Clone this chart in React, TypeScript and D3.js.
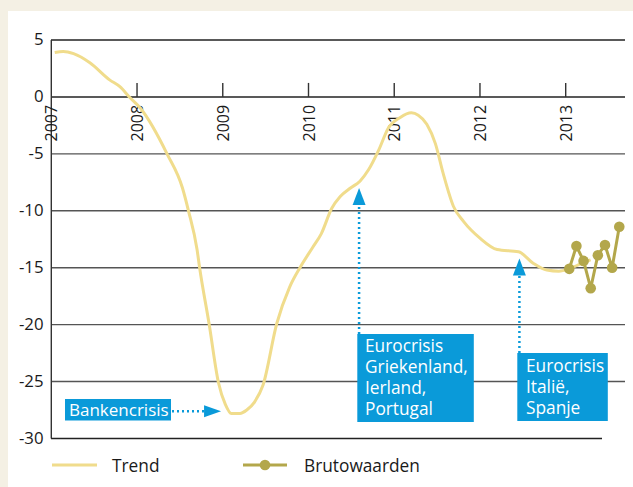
import React from "react";
import * as d3 from "d3";

// trend (decimal year, value)
const trendYears = [
  2007.04, 2007.14, 2007.26, 2007.45, 2007.68, 2007.8, 2007.91, 2008.04, 2008.35, 2008.53,
  2008.6, 2008.7, 2008.73, 2008.84, 2008.95, 2009.03, 2009.1, 2009.2, 2009.28, 2009.37,
  2009.47, 2009.63, 2009.78, 2009.9, 2010.05, 2010.15, 2010.27, 2010.37, 2010.49, 2010.6,
  2010.7, 2010.82, 2010.93, 2011.07, 2011.2, 2011.28, 2011.38, 2011.48, 2011.57, 2011.69,
  2011.81, 2012.0, 2012.2, 2012.45, 2012.62, 2012.78, 2012.92, 2013.04, 2013.19, 2013.29,
];
const trendValues = [
  3.9, 4.0, 3.8, 3.0, 1.5, 0.9, 0.0, -1.0, -5.0, -8.0,
  -10.0, -13.4, -15.0, -19.9, -25.1, -27.0, -27.8, -27.8, -27.5, -26.8,
  -25.3, -19.9, -16.7, -15.0, -13.2, -12.0, -9.8, -8.75, -8.0, -7.4,
  -6.4, -4.65, -2.75, -1.8, -1.4, -1.6, -2.4, -4.1, -6.7, -9.6,
  -10.95, -12.4, -13.4, -13.6, -14.6, -15.2, -15.3, -15.1, -14.6, -14.3,
];

// brutowaarden 2013, monthly
const brutoMonths = [1, 2, 3, 4, 5, 6, 7, 8];
const brutoValues = [-15.1, -13.1, -14.4, -16.8, -13.9, -13.0, -15.0, -11.4];

const yearTicks = [2007, 2008, 2009, 2010, 2011, 2012, 2013];
const valueTicks = [5, 0, -5, -10, -15, -20, -25, -30];

const blue = "#0a9ad9";
const trendColor = "#f0dc8c";
const brutoColor = "#b3a74b";
const font = "'Open Sans', 'Noto Sans', sans-serif";

const App = () => {
  const x = d3.scaleLinear().domain([2007, 2013]).range([51.3, 565.7]);
  const y = d3.scaleLinear().domain([-30, 5]).range([438.5, 40]);

  const trendData = trendYears.map((t, i) => ({ t, v: trendValues[i] }));
  const brutoData = brutoMonths.map((m, i) => ({ t: 2013 + (m - 0.5) / 12, v: brutoValues[i] }));

  const line = d3
    .line<{ t: number; v: number }>()
    .x(d => x(d.t))
    .y(d => y(d.v))
    .curve(d3.curveMonotoneX);
  const brutoLine = d3
    .line<{ t: number; v: number }>()
    .x(d => x(d.t))
    .y(d => y(d.v));

  // arrow tips
  const tip1 = [x(2008.98), y(-27.6)];
  const tip2 = [x(2010.59), y(-8.0)];
  const tip3 = [x(2012.46), y(-14.2)];

  return (
    <div style={{ position: "absolute", left: 0, top: 0 }}>
      <svg width={633} height={487} style={{ display: "block", fontFamily: font }}>
        <rect width={633} height={487} fill="#f4f0e4" />
        <rect x={8} y={11} width={625} height={476} fill="#fff" />

        {valueTicks.map(v => (
          <line
            key={"g" + v}
            x1={51}
            x2={v === -30 ? 602 : 625}
            y1={y(v)}
            y2={y(v)}
            stroke={v === 5 || v === 0 || v === -30 ? "#222" : "#555"}
            strokeWidth={1.4}
          />
        ))}
        <line x1={51.3} x2={51.3} y1={y(5)} y2={y(-30)} stroke="#333" strokeWidth={1.4} />

        {valueTicks.map(v => (
          <text key={"yl" + v} x={43.5} y={y(v)} dy="0.3em" textAnchor="end" fontSize={16.8} fill="#1a1a1a">
            {v}
          </text>
        ))}

        {yearTicks.map(t => (
          <g key={"x" + t}>
            {t > 2007 && <line x1={x(t)} x2={x(t)} y1={y(0)} y2={y(0) - 14} stroke="#333" strokeWidth={1.4} />}
            <text
              transform={`translate(${x(t) + 6},${y(0) + 8}) rotate(-90)`}
              textAnchor="end"
              fontSize={16}
              fill="#1a1a1a"
            >
              {t}
            </text>
          </g>
        ))}

        <path d={line(trendData) || ""} fill="none" stroke={trendColor} strokeWidth={3} strokeLinejoin="round" />
        <path d={brutoLine(brutoData) || ""} fill="none" stroke={brutoColor} strokeWidth={3} />
        {brutoData.map((d, i) => (
          <circle key={"b" + i} cx={x(d.t)} cy={y(d.v)} r={5.3} fill={brutoColor} />
        ))}

        {/* Bankencrisis */}
        <line x1={172} x2={tip1[0] - 16} y1={tip1[1]} y2={tip1[1]} stroke={blue} strokeWidth={2.5} strokeDasharray="2,3" />
        <path d={`M${tip1[0]},${tip1[1]} L${tip1[0] - 17},${tip1[1] - 6} L${tip1[0] - 17},${tip1[1] + 6} Z`} fill={blue} />
        <rect x={65} y={399} width={106} height={21.5} fill={blue} />
        <text x={69} y={415.5} fontSize={17} fill="#fff">Bankencrisis</text>

        {/* Eurocrisis Griekenland */}
        <line x1={tip2[0]} x2={tip2[0]} y1={334} y2={tip2[1] + 16} stroke={blue} strokeWidth={2.5} strokeDasharray="2,3" />
        <path d={`M${tip2[0]},${tip2[1]} L${tip2[0] - 6.5},${tip2[1] + 17} L${tip2[0] + 6.5},${tip2[1] + 17} Z`} fill={blue} />
        <rect x={357.3} y={334} width={116.5} height={88} fill={blue} />
        {["Eurocrisis", "Griekenland,", "Ierland,", "Portugal"].map((s, i) => (
          <text key={s} x={365} y={352 + i * 21} fontSize={17.3} fill="#fff">{s}</text>
        ))}

        {/* Eurocrisis Italie */}
        <line x1={tip3[0]} x2={tip3[0]} y1={353} y2={tip3[1] + 16} stroke={blue} strokeWidth={2.5} strokeDasharray="2,3" />
        <path d={`M${tip3[0]},${tip3[1]} L${tip3[0] - 6.5},${tip3[1] + 17} L${tip3[0] + 6.5},${tip3[1] + 17} Z`} fill={blue} />
        <rect x={517.3} y={353} width={90.5} height={68} fill={blue} />
        {["Eurocrisis", "Italië,", "Spanje"].map((s, i) => (
          <text key={s} x={526} y={372 + i * 21} fontSize={17.3} fill="#fff">{s}</text>
        ))}

        {/* legend */}
        <line x1={52} x2={97} y1={465} y2={465} stroke={trendColor} strokeWidth={3} />
        <text x={112} y={471.5} fontSize={17.3} fill="#1a1a1a">Trend</text>
        <line x1={243} x2={287} y1={465} y2={465} stroke={brutoColor} strokeWidth={3} />
        <circle cx={265} cy={465} r={5.3} fill={brutoColor} />
        <text x={304} y={471.5} fontSize={17.3} fill="#1a1a1a">Brutowaarden</text>
      </svg>
    </div>
  );
};

export default App;
